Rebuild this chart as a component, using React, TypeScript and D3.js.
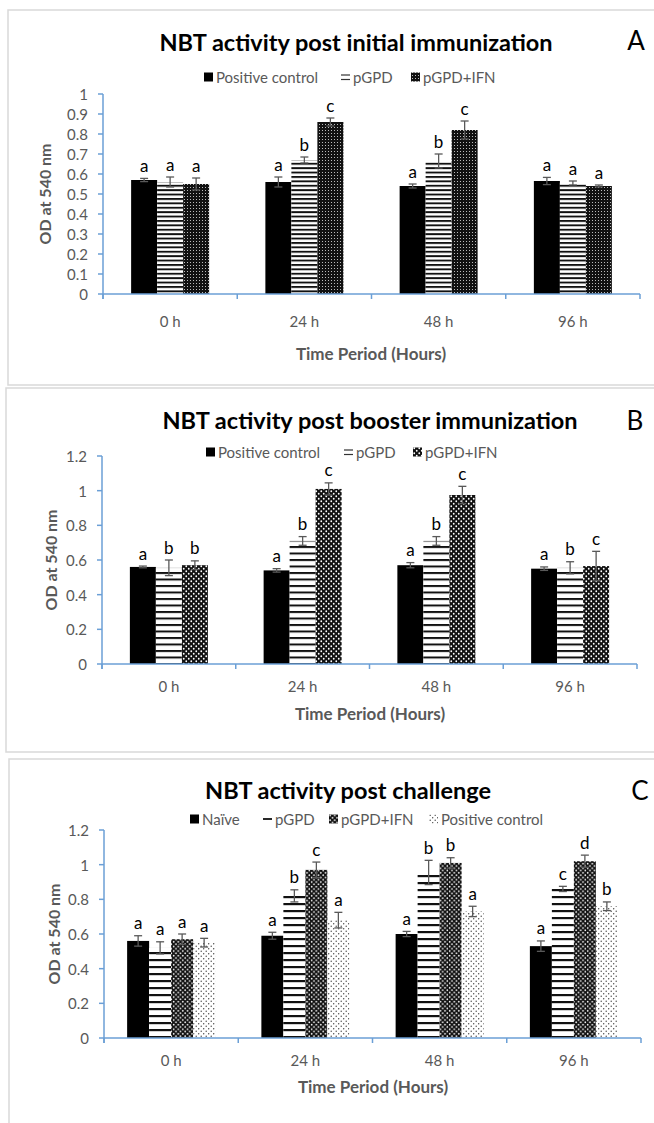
import React from "react";
import * as d3 from "d3";

const timePoints = ["0 h", "24 h", "48 h", "96 h"];

// A: post initial immunization
const seriesA = ["Positive control", "pGPD", "pGPD+IFN"];
const meanA = [
  [0.57, 0.56, 0.54, 0.565],
  [0.56, 0.67, 0.665, 0.555],
  [0.55, 0.86, 0.82, 0.54],
];
const errA = [
  [0.008, 0.025, 0.01, 0.018],
  [0.025, 0.015, 0.035, 0.01],
  [0.03, 0.02, 0.045, 0.005],
];
const lettersA = [
  ["a", "a", "a", "a"],
  ["a", "b", "b", "a"],
  ["a", "c", "c", "a"],
];
const ticksA = [0, 0.1, 0.2, 0.3, 0.4, 0.5, 0.6, 0.7, 0.8, 0.9, 1];

// B: post booster immunization
const seriesB = ["Positive control", "pGPD", "pGPD+IFN"];
const meanB = [
  [0.56, 0.54, 0.57, 0.55],
  [0.555, 0.71, 0.71, 0.555],
  [0.57, 1.01, 0.975, 0.565],
];
const errB = [
  [0.005, 0.01, 0.015, 0.01],
  [0.045, 0.025, 0.025, 0.035],
  [0.025, 0.035, 0.05, 0.085],
];
const lettersB = [
  ["a", "a", "a", "a"],
  ["b", "b", "b", "b"],
  ["b", "c", "c", "c"],
];
const ticksB = [0, 0.2, 0.4, 0.6, 0.8, 1, 1.2];

// C: post challenge
const seriesC = ["Naïve", "pGPD", "pGPD+IFN", "Positive control"];
const meanC = [
  [0.56, 0.59, 0.6, 0.53],
  [0.52, 0.82, 0.955, 0.86],
  [0.57, 0.97, 1.01, 1.02],
  [0.55, 0.68, 0.73, 0.76],
];
const errC = [
  [0.03, 0.02, 0.015, 0.03],
  [0.035, 0.035, 0.07, 0.015],
  [0.03, 0.045, 0.03, 0.035],
  [0.025, 0.045, 0.03, 0.025],
];
const lettersC = [
  ["a", "a", "a", "a"],
  ["a", "b", "b", "c"],
  ["a", "c", "b", "d"],
  ["a", "a", "a", "b"],
];
const ticksC = [0, 0.2, 0.4, 0.6, 0.8, 1, 1.2];

const FONT = "Lato, 'Open Sans', sans-serif";
const GREY = "#595959";
const AXIS = "#6b9fd6";

type Layout = {
  box: [number, number, number, number];
  titleX: number;
  titleY: number;
  tagX: number;
  tagY: number;
  legendY: number;
  legendX: number[];
  x0: number;
  x1: number;
  yTop: number;
  yBottom: number;
  catY: number;
  xTitleX: number;
  xTitleY: number;
  yTitleX: number;
  barW: number;
};

type PanelProps = {
  title: string;
  tag: string;
  series: string[];
  means: number[][];
  errs: number[][];
  letters: string[][];
  ticks: number[];
  fills: string[];
  keys: string[]; // legend swatch style
  L: Layout;
};

function Swatch({ kind, fill }: { kind: string; fill: string }) {
  if (kind === "eq")
    return (
      <g>
        <line x1={0} x2={9} y1={-2} y2={-2} stroke="#333" strokeWidth={1.2} />
        <line x1={0} x2={9} y1={2.5} y2={2.5} stroke="#333" strokeWidth={1.2} />
      </g>
    );
  if (kind === "dash") return <line x1={0} x2={9} y1={0} y2={0} stroke="#111" strokeWidth={1.8} />;
  return <rect x={0} y={-4.5} width={9} height={9} fill={fill} />;
}

function Panel({ title, tag, series, means, errs, letters, ticks, fills, keys, L }: PanelProps) {
  const yMax = ticks[ticks.length - 1];
  const y = d3.scaleLinear().domain([0, yMax]).range([L.yBottom, L.yTop]);
  const x = d3.scaleBand().domain(timePoints).range([L.x0, L.x1]).padding(0);
  const groupW = L.barW * series.length;
  const xs = d3.scaleBand().domain(series).range([-groupW / 2, groupW / 2]);
  const bw = x.bandwidth();

  return (
    <g>
      <rect x={L.box[0]} y={L.box[1]} width={L.box[2]} height={L.box[3]} fill="#fff" stroke="#d9d9d9" strokeWidth={1.5} />
      <text x={L.titleX} y={L.titleY} textAnchor="middle" dominantBaseline="central" fontSize={23.5} fontWeight="bold" fill="#000">{title}</text>
      <text x={L.tagX} y={L.tagY} textAnchor="middle" dominantBaseline="central" fontSize={26} fill="#000">{tag}</text>

      {series.map((s, i) => (
        <g key={s} transform={`translate(${L.legendX[i]},${L.legendY})`}>
          <Swatch kind={keys[i]} fill={fills[i]} />
          <text x={12} y={0} dominantBaseline="central" fontSize={15} fill={GREY}>{s}</text>
        </g>
      ))}

      {/* y axis */}
      <line x1={L.x0} x2={L.x0} y1={L.yTop} y2={L.yBottom + 5} stroke={AXIS} strokeWidth={1.5} />
      {ticks.map((t) => (
        <g key={t}>
          <line x1={L.x0 - 5} x2={L.x0} y1={y(t)} y2={y(t)} stroke={AXIS} strokeWidth={1.5} />
          <text x={L.x0 - 15} y={y(t)} textAnchor="end" dominantBaseline="central" fontSize={15} fill={GREY}>{String(t)}</text>
        </g>
      ))}
      <text transform={`translate(${L.yTitleX},${(L.yTop + L.yBottom) / 2}) rotate(-90)`} textAnchor="middle" dominantBaseline="central" fontSize={16} fontWeight="bold" fill={GREY}>OD at 540 nm</text>

      {/* bars */}
      {series.map((s, i) =>
        timePoints.map((tp, j) => {
          const cx = (x(tp) as number) + bw / 2;
          const bx = cx + (xs(s) as number);
          const v = means[i][j];
          const e = errs[i][j];
          const mid = bx + L.barW / 2;
          return (
            <g key={`${s}-${tp}`}>
              <rect x={bx} y={y(v)} width={L.barW} height={y(0) - y(v)} fill={fills[i]} />
              <line x1={mid} x2={mid} y1={y(v - e)} y2={y(v + e)} stroke={GREY} strokeWidth={1.3} />
              <line x1={mid - 4} x2={mid + 4} y1={y(v + e)} y2={y(v + e)} stroke={GREY} strokeWidth={1.3} />
              <line x1={mid - 4} x2={mid + 4} y1={y(v - e)} y2={y(v - e)} stroke={GREY} strokeWidth={1.3} />
              <text x={mid} y={y(v + e) - 13} textAnchor="middle" dominantBaseline="central" fontSize={17} fill="#000">{letters[i][j]}</text>
            </g>
          );
        })
      )}

      {/* x axis */}
      <line x1={L.x0} x2={L.x1} y1={L.yBottom} y2={L.yBottom} stroke={AXIS} strokeWidth={1.5} />
      {d3.range(timePoints.length + 1).map((k) => (
        <line key={k} x1={L.x0 + k * bw} x2={L.x0 + k * bw} y1={L.yBottom} y2={L.yBottom + 5} stroke={AXIS} strokeWidth={1.5} />
      ))}
      {timePoints.map((tp) => (
        <text key={tp} x={(x(tp) as number) + bw / 2} y={L.catY} textAnchor="middle" dominantBaseline="central" fontSize={15} fill={GREY}>{tp}</text>
      ))}
      <text x={L.xTitleX} y={L.xTitleY} textAnchor="middle" dominantBaseline="central" fontSize={17} fontWeight="bold" fill={GREY}>Time Period (Hours)</text>
    </g>
  );
}

const layoutA: Layout = {
  box: [8, 10, 660, 375], titleX: 356, titleY: 42, tagX: 636, tagY: 40,
  legendY: 77, legendX: [204, 341, 411],
  x0: 103, x1: 640, yTop: 94, yBottom: 294, catY: 321, xTitleX: 371, xTitleY: 353, yTitleX: 44, barW: 26,
};
const layoutB: Layout = {
  box: [6, 388, 660, 364], titleX: 370, titleY: 420, tagX: 635, tagY: 420,
  legendY: 452, legendX: [206, 344, 413],
  x0: 102, x1: 637, yTop: 456, yBottom: 664, catY: 686, xTitleX: 370, xTitleY: 713, yTitleX: 50, barW: 26,
};
const layoutC: Layout = {
  box: [9, 759, 660, 400], titleX: 348, titleY: 790, tagX: 640, tagY: 790,
  legendY: 819, legendX: [190, 263, 329, 429],
  x0: 104, x1: 641, yTop: 830, yBottom: 1038, catY: 1060, xTitleX: 373, xTitleY: 1086, yTitleX: 53, barW: 22,
};

export default function App() {
  return (
    <svg width={654} height={1123} style={{ position: "absolute", left: 0, top: 0, fontFamily: FONT }}>
      <defs>
        <pattern id="stripeA" patternUnits="userSpaceOnUse" width={8} height={4.4}>
          <rect width={8} height={4.4} fill="#fff" />
          <rect y={0} width={8} height={1.9} fill="#111" />
        </pattern>
        <pattern id="stripeB" patternUnits="userSpaceOnUse" width={8} height={6.5}>
          <rect width={8} height={6.5} fill="#fff" />
          <rect y={0} width={8} height={2} fill="#111" />
        </pattern>
        <pattern id="stripeC" patternUnits="userSpaceOnUse" width={8} height={7}>
          <rect width={8} height={7} fill="#fff" />
          <rect y={0} width={8} height={2.2} fill="#111" />
        </pattern>
        <pattern id="checkA" patternUnits="userSpaceOnUse" width={3} height={3}>
          <rect width={3} height={3} fill="#111" />
          <rect x={1} y={1} width={1} height={1} fill="#bbb" />
        </pattern>
        <pattern id="checkB" patternUnits="userSpaceOnUse" width={5} height={5}>
          <rect width={5} height={5} fill="#111" />
          <circle cx={1.25} cy={1.25} r={0.9} fill="#fff" />
          <circle cx={3.75} cy={3.75} r={0.9} fill="#fff" />
        </pattern>
        <pattern id="checkC" patternUnits="userSpaceOnUse" width={4.6} height={4.6}>
          <rect width={4.6} height={4.6} fill="#111" />
          <circle cx={1.15} cy={1.15} r={0.85} fill="#fff" />
          <circle cx={3.45} cy={3.45} r={0.85} fill="#fff" />
        </pattern>
        <pattern id="dotC" patternUnits="userSpaceOnUse" width={5} height={5}>
          <rect width={5} height={5} fill="#fff" />
          <circle cx={1.2} cy={1.2} r={0.7} fill="#444" />
          <circle cx={3.7} cy={3.7} r={0.7} fill="#444" />
        </pattern>
      </defs>
      <rect width={654} height={1123} fill="#fff" />
      <Panel title="NBT activity post initial immunization" tag="A" series={seriesA} means={meanA} errs={errA}
        letters={lettersA} ticks={ticksA} fills={["#000", "url(#stripeA)", "url(#checkA)"]}
        keys={["fill", "eq", "fill"]} L={layoutA} />
      <Panel title="NBT activity post booster immunization" tag="B" series={seriesB} means={meanB} errs={errB}
        letters={lettersB} ticks={ticksB} fills={["#000", "url(#stripeB)", "url(#checkB)"]}
        keys={["fill", "eq", "fill"]} L={layoutB} />
      <Panel title="NBT activity post challenge" tag="C" series={seriesC} means={meanC} errs={errC}
        letters={lettersC} ticks={ticksC} fills={["#000", "url(#stripeC)", "url(#checkC)", "url(#dotC)"]}
        keys={["fill", "dash", "fill", "fill"]} L={layoutC} />
    </svg>
  );
}
